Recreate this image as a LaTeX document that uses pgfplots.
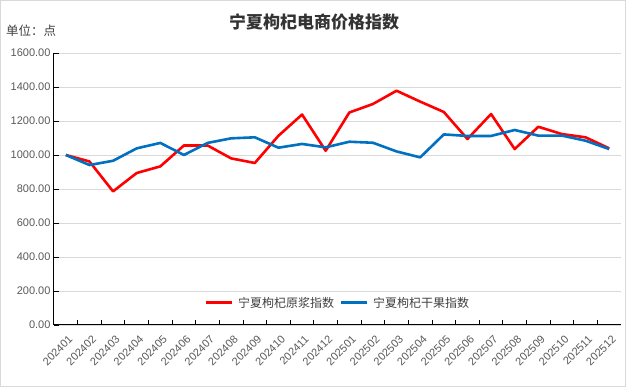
\documentclass[border=0pt]{standalone}
\usepackage{pgfplots}
\pgfplotsset{compat=1.18}
\usepackage{fontspec}
\setmainfont{Liberation Sans}
\newfontfamily\cjk{Noto Sans CJK SC}
\definecolor{redl}{RGB}{255,0,0}
\definecolor{bluel}{RGB}{0,112,192}
\definecolor{gridc}{RGB}{217,217,217}
\definecolor{txt}{RGB}{89,89,89}
\begin{document}
\begin{tikzpicture}
\draw[gridc,line width=1pt] (0.5pt,0.5pt) rectangle (625.5pt,386.5pt);
\node[font=\cjk\bfseries\fontsize{17}{20}\selectfont,text=black!80] at (314pt,365pt) {宁夏枸杞电商价格指数};
\node[font=\cjk\fontsize{12.5}{15}\selectfont,text=black!75,anchor=west,inner sep=0pt] at (6pt,356pt) {单位：点};
\begin{axis}[
  at={(54pt,62pt)}, anchor=south west,
  scale only axis, width=567pt, height=272pt,
  xmin=-0.5, xmax=23.5, ymin=0, ymax=1600,
  axis lines=left, axis line style={-, black, line width=1pt},
  ytick={0,200,...,1600},
  ymajorgrids, grid style={gridc, line width=0.8pt},
  yticklabel style={font=\fontsize{11}{13}\selectfont, text=txt, /pgf/number format/.cd, fixed, fixed zerofill, precision=2, 1000 sep={}},
  /pgf/number format/assume math mode=true,
  xtick={0,...,23},
  xticklabels={202401,202402,202403,202404,202405,202406,202407,202408,202409,202410,202411,202412,202501,202502,202503,202504,202505,202506,202507,202508,202509,202510,202511,202512},
  xticklabel style={xshift=2pt, yshift=-8pt, font=\fontsize{11}{13}\selectfont, text=txt, rotate=45, anchor=north east, inner sep=1pt},
  minor x tick num=1,
  every major x tick/.style={draw=none},
  tick align=inside, major tick length=5pt, minor tick length=5pt,
  tick style={black, line width=0.8pt},
  legend style={at={(0.5,0.081)}, anchor=center, draw=none, fill=none, font=\cjk\fontsize{12}{14}\selectfont, text=black!75, legend columns=2, column sep=3pt, inner sep=0pt},
  legend image code/.code={\draw[#1, line width=3pt] (0pt,0pt) -- (26pt,0pt);},
  clip=false,
]
\addplot[redl, line width=2.6pt, line join=round] coordinates {
(0,1000)(1,962)(2,786)(3,894)(4,933)(5,1056)(6,1056)(7,980)(8,953)(9,1113)(10,1238)(11,1025)(12,1250)(13,1300)(14,1378)(15,1314)(16,1253)(17,1094)(18,1241)(19,1035)(20,1166)(21,1123)(22,1104)(23,1039)};
\addlegendentry{宁夏枸杞原浆指数}
\addplot[bluel, line width=2.6pt, line join=round] coordinates {
(0,1000)(1,941)(2,966)(3,1039)(4,1071)(5,1000)(6,1071)(7,1098)(8,1104)(9,1043)(10,1065)(11,1045)(12,1078)(13,1072)(14,1021)(15,986)(16,1121)(17,1112)(18,1112)(19,1147)(20,1114)(21,1114)(22,1084)(23,1035)};
\addlegendentry{宁夏枸杞干果指数}
\end{axis}
\end{tikzpicture}
\end{document}
